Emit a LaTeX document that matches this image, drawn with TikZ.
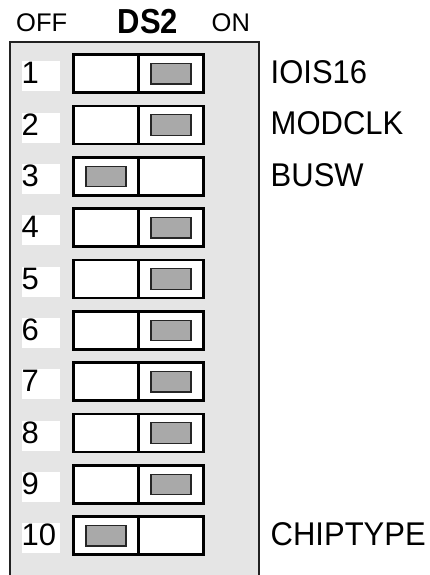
\documentclass[tikz,border=0pt]{standalone}
\usepackage{fontspec}
\usepackage{graphicx}
\setmainfont{Liberation Sans}
\definecolor{panelgray}{HTML}{E5E5E5}
\definecolor{slidergray}{HTML}{A9A9A9}
\definecolor{edgegray}{HTML}{222222}
\begin{document}
\begin{tikzpicture}[x=1pt,y=-1pt,
  half/.style={draw=black, line width=2.7pt, fill=white, minimum width=65pt, minimum height=38pt, inner sep=0pt, outer sep=0pt},
  slider/.style={draw=black!85, line width=1.2pt, fill=slidergray, minimum width=40pt, minimum height=20.5pt, inner sep=0pt},
  numbox/.style={fill=white, minimum width=38pt, minimum height=30pt, inner sep=0pt},
  numtext/.style={anchor=base west, inner sep=0pt, font=\fontsize{31}{31}\selectfont},
  headtext/.style={anchor=base west, inner sep=0pt, font=\fontsize{25.5}{25.5}\selectfont},
  sidetext/.style={anchor=base west, inner sep=0pt, font=\fontsize{31}{31}\selectfont}
]
\clip (0,0) rectangle (430,575);
\draw[draw=edgegray, line width=2pt, fill=panelgray] (10,42) rectangle (259,620);
\node[headtext] (off) at (16,31.7) {OFF};
\node[headtext] (on) at (211.5,31.7) {ON};
\node[anchor=base west, inner sep=0pt, font=\fontsize{31}{31}\selectfont\bfseries] (title) at (117.5,33.3) {\scalebox{1}[1.12]{DS2}};
\foreach \k/\s in {1/1,2/1,3/0,4/1,5/1,6/1,7/1,8/1,9/1,10/0} {
  \pgfmathsetmacro\cy{73.8+(\k-1)*51.33}
  \node[numbox] (B\k) at (41,\cy+2.5) {};
  \node[numtext] (N\k) at (21.5,\cy+10) {\k};
  \node[half] (L\k) at (106,\cy) {};
  \node[half] (R\k) at (171,\cy) {};
  \ifnum\s=1
    \node[slider] (S\k) at (R\k.center) {};
  \else
    \node[slider] (S\k) at (L\k.center) {};
  \fi
}
\node[sidetext] (t1) at (270.5,83.3) {\scalebox{1}[1.06]{IOIS16}};
\node[sidetext] (t2) at (270.5,134.6) {\scalebox{1}[1.06]{MODCLK}};
\node[sidetext] (t3) at (270.5,186.0) {\scalebox{1}[1.06]{BUSW}};
\node[sidetext] (t10) at (270.5,545.0) {\scalebox{1}[1.06]{CHIPTYPE}};
\end{tikzpicture}
\end{document}
